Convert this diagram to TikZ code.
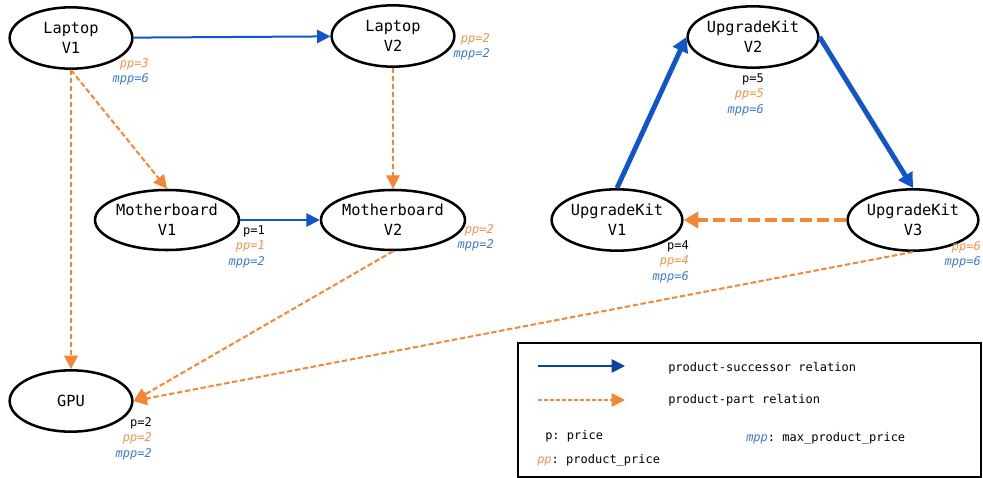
\documentclass[tikz,border=0pt]{standalone}
\usepackage{xcolor}
\usepackage{fontspec}
\setmonofont{DejaVu Sans Mono}
\usepackage{tikz}
\usetikzlibrary{shapes.geometric, arrows.meta, positioning}
\definecolor{SuccBlue}{HTML}{1155CC}
\definecolor{LegBlue}{HTML}{0B44A0}
\definecolor{PartOrange}{HTML}{F58634}
\definecolor{PPOrange}{HTML}{F6914A}
\definecolor{MPPBlue}{HTML}{3C78D8}

\begin{document}
\begin{tikzpicture}[x=0.75pt, y=-0.75pt,
  product/.style={ellipse, draw=black, line width=1.9pt, inner sep=0pt,
    minimum width=92pt, minimum height=46pt, align=center,
    font=\ttfamily\fontsize{11.5}{15}\selectfont},
  wide/.style={minimum width=108pt, minimum height=45pt},
  kit/.style={minimum width=98pt, minimum height=46pt},
  attr/.style={anchor=north east, inner sep=0pt, align=right,
    font=\ttfamily\fontsize{9}{11.8}\selectfont},
  legtext/.style={anchor=west, inner sep=0pt,
    font=\ttfamily\fontsize{9}{11}\selectfont},
  succ/.style={-{Triangle[length=10pt, width=10pt]}, line width=1.5pt, color=SuccBlue},
  part/.style={-{Triangle[length=10pt, width=10pt]}, line width=1.5pt, dashed,
    dash pattern=on 4pt off 2pt, color=PartOrange},
  succthick/.style={-{Triangle[length=11pt, width=12pt]}, line width=3.7pt, color=SuccBlue},
  partthick/.style={-{Triangle[length=11pt, width=12pt]}, line width=3.7pt,
    dash pattern=on 9pt off 4pt, color=PartOrange}
]
\useasboundingbox (0,0) rectangle (983,478);

% laptop / motherboard / gpu
\node[product] (lv1) at (71,38)  {Laptop\\V1};
\node[product] (lv2) at (393,36) {Laptop\\V2};
\node[product, wide] (mv1) at (167,220) {Motherboard\\V1};
\node[product, wide] (mv2) at (393,220) {Motherboard\\V2};
\node[product] (gpu) at (71,401) {GPU};

% upgrade kits
\node[product, kit] (uk2) at (753,37)  {UpgradeKit\\V2};
\node[product, kit] (uk1) at (617,220) {UpgradeKit\\V1};
\node[product, kit] (uk3) at (913,220) {UpgradeKit\\V3};

% price annotations
\node[attr] (lv1a) at (149,58) {\textcolor{PPOrange}{\itshape pp=3}\\\textcolor{MPPBlue}{\itshape mpp=6}};
\node[attr] (lv2a) at (490,33) {\textcolor{PPOrange}{\itshape pp=2}\\\textcolor{MPPBlue}{\itshape mpp=2}};
\node[attr] (mv1a) at (265,225) {p=1\\\textcolor{PPOrange}{\itshape pp=1}\\\textcolor{MPPBlue}{\itshape mpp=2}};
\node[attr] (mv2a) at (494,224) {\textcolor{PPOrange}{\itshape pp=2}\\\textcolor{MPPBlue}{\itshape mpp=2}};
\node[attr] (gpua) at (152,417) {p=2\\\textcolor{PPOrange}{\itshape pp=2}\\\textcolor{MPPBlue}{\itshape mpp=2}};
\node[attr] (uk2a) at (764,73)  {p=5\\\textcolor{PPOrange}{\itshape pp=5}\\\textcolor{MPPBlue}{\itshape mpp=6}};
\node[attr] (uk1a) at (689,240) {p=4\\\textcolor{PPOrange}{\itshape pp=4}\\\textcolor{MPPBlue}{\itshape mpp=6}};
\node[attr] (uk3a) at (981,241) {\textcolor{PPOrange}{\itshape pp=6}\\\textcolor{MPPBlue}{\itshape mpp=6}};

% relations
\draw[succ] (lv1) -- (lv2);
\draw[succ] (mv1) -- (mv2);
\draw[part] (lv1.south) -- (mv1.north);
\draw[part] (lv1.south) -- (gpu.north);
\draw[part] (lv2.south) -- (mv2.north);
\draw[part] (mv2.south) -- (gpu.east);
\draw[part] (uk3.south) -- (gpu.east);
\draw[succthick] (uk1.north) -- (uk2.west);
\draw[succthick] (uk2.east) -- (uk3.north);
\draw[partthick] (uk3.west) -- (uk1.east);

% legend
\draw[line width=2pt] (518,343) rectangle (981,477);
\coordinate (s0) at (538,366);
\coordinate (s1) at (625,366);
\coordinate (p0) at (538,400);
\coordinate (p1) at (625,400);
\draw[succ, color=LegBlue, line width=1.3pt] (s0) -- (s1);
\draw[part, line width=1.3pt, dash pattern=on 3pt off 1.5pt] (p0) -- (p1);
\node[legtext] (sucl) at (668,368) {product-successor relation};
\node[legtext] (partl) at (668,400) {product-part relation};
\node[legtext] (pl) at (545,436) {p: price};
\node[legtext] (mppl) at (746,438) {\textcolor{MPPBlue}{\itshape mpp}: max\_product\_price};
\node[legtext] (ppl) at (537,460) {\textcolor{PPOrange}{\itshape pp}: product\_price};
\end{tikzpicture}
\end{document}
